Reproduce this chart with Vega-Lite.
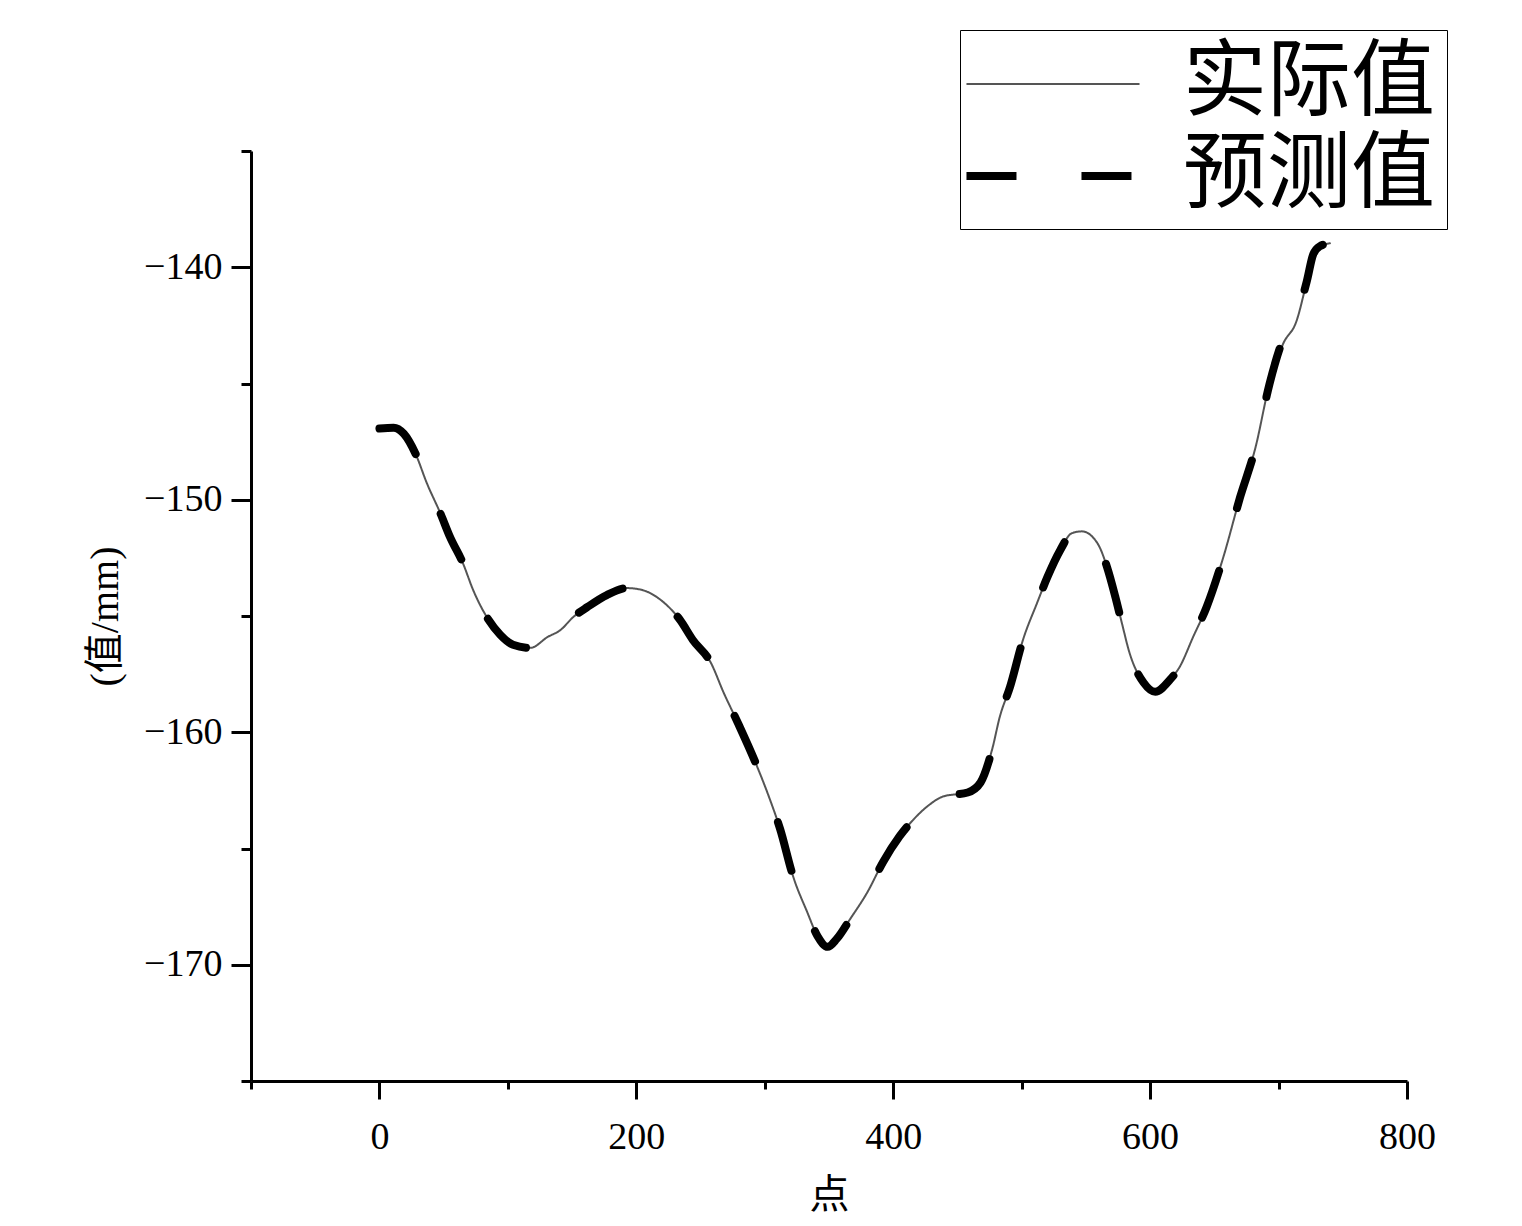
{
  "$schema": "https://vega.github.io/schema/vega-lite/v6.json",
  "width": 1156,
  "height": 930,
  "autosize": {"type": "none"},
  "padding": {"left": 251, "top": 151, "right": 115, "bottom": 145},
  "background": "white",
  "config": {"view": {"stroke": null}, "font": "Liberation Serif, Noto Sans CJK SC"},
  "data": {"values": [
    {"s": "实际值", "x": 0, "y": -146.94}, {"s": "实际值", "x": 11, "y": -146.90}, {"s": "实际值", "x": 19, "y": -147.16}, {"s": "实际值", "x": 28, "y": -148.01},
    {"s": "实际值", "x": 37, "y": -149.30}, {"s": "实际值", "x": 47.5, "y": -150.59}, {"s": "实际值", "x": 55, "y": -151.61}, {"s": "实际值", "x": 65, "y": -152.73},
    {"s": "实际值", "x": 73, "y": -153.89}, {"s": "实际值", "x": 85, "y": -155.17}, {"s": "实际值", "x": 94, "y": -155.81}, {"s": "实际值", "x": 104, "y": -156.24},
    {"s": "实际值", "x": 117.5, "y": -156.37}, {"s": "实际值", "x": 131, "y": -155.90}, {"s": "实际值", "x": 141, "y": -155.60}, {"s": "实际值", "x": 151, "y": -155.04},
    {"s": "实际值", "x": 162, "y": -154.61}, {"s": "实际值", "x": 177, "y": -154.10}, {"s": "实际值", "x": 193, "y": -153.80}, {"s": "实际值", "x": 205, "y": -153.89},
    {"s": "实际值", "x": 219, "y": -154.31}, {"s": "实际值", "x": 234, "y": -155.17}, {"s": "实际值", "x": 244, "y": -156.03}, {"s": "实际值", "x": 258, "y": -157.01},
    {"s": "实际值", "x": 268, "y": -158.30}, {"s": "实际值", "x": 279, "y": -159.59}, {"s": "实际值", "x": 294, "y": -161.47}, {"s": "实际值", "x": 304, "y": -162.89},
    {"s": "实际值", "x": 312, "y": -164.17}, {"s": "实际值", "x": 322, "y": -166.19}, {"s": "实际值", "x": 333, "y": -167.73}, {"s": "实际值", "x": 341, "y": -168.76},
    {"s": "实际值", "x": 349, "y": -169.23}, {"s": "实际值", "x": 356, "y": -168.89}, {"s": "实际值", "x": 366.5, "y": -168.03}, {"s": "实际值", "x": 380, "y": -166.87},
    {"s": "实际值", "x": 392, "y": -165.59}, {"s": "实际值", "x": 405, "y": -164.47}, {"s": "实际值", "x": 416, "y": -163.74}, {"s": "实际值", "x": 426.5, "y": -163.19},
    {"s": "实际值", "x": 439, "y": -162.76}, {"s": "实际值", "x": 458, "y": -162.59}, {"s": "实际值", "x": 468, "y": -162.16}, {"s": "实际值", "x": 477, "y": -160.74},
    {"s": "实际值", "x": 483, "y": -159.33}, {"s": "实际值", "x": 491, "y": -158.04}, {"s": "实际值", "x": 501, "y": -156.03}, {"s": "实际值", "x": 512, "y": -154.44},
    {"s": "实际值", "x": 520, "y": -153.33}, {"s": "实际值", "x": 530, "y": -152.17}, {"s": "实际值", "x": 539, "y": -151.44}, {"s": "实际值", "x": 547, "y": -151.36},
    {"s": "实际值", "x": 559, "y": -151.87}, {"s": "实际值", "x": 566.5, "y": -152.90}, {"s": "实际值", "x": 573, "y": -154.19}, {"s": "实际值", "x": 578, "y": -155.30},
    {"s": "实际值", "x": 584, "y": -156.59}, {"s": "实际值", "x": 595, "y": -157.87}, {"s": "实际值", "x": 604, "y": -158.26}, {"s": "实际值", "x": 615.5, "y": -157.74},
    {"s": "实际值", "x": 623, "y": -157.19}, {"s": "实际值", "x": 633.5, "y": -155.90}, {"s": "实际值", "x": 644, "y": -154.61}, {"s": "实际值", "x": 657, "y": -152.47},
    {"s": "实际值", "x": 670, "y": -149.90}, {"s": "实际值", "x": 682, "y": -147.76}, {"s": "实际值", "x": 693, "y": -145.01}, {"s": "实际值", "x": 703.5, "y": -143.30},
    {"s": "实际值", "x": 714, "y": -142.31}, {"s": "实际值", "x": 722, "y": -140.60}, {"s": "实际值", "x": 727, "y": -139.44}, {"s": "实际值", "x": 732, "y": -139.10},
    {"s": "实际值", "x": 740, "y": -138.97},
    {"s": "预测值", "x": 0, "y": -146.94}, {"s": "预测值", "x": 11, "y": -146.90}, {"s": "预测值", "x": 19, "y": -147.16}, {"s": "预测值", "x": 28, "y": -148.01},
    {"s": "预测值", "x": 37, "y": -149.30}, {"s": "预测值", "x": 47.5, "y": -150.59}, {"s": "预测值", "x": 55, "y": -151.61}, {"s": "预测值", "x": 65, "y": -152.73},
    {"s": "预测值", "x": 73, "y": -153.89}, {"s": "预测值", "x": 85, "y": -155.17}, {"s": "预测值", "x": 94, "y": -155.81}, {"s": "预测值", "x": 104, "y": -156.24},
    {"s": "预测值", "x": 117.5, "y": -156.37}, {"s": "预测值", "x": 131, "y": -155.90}, {"s": "预测值", "x": 141, "y": -155.60}, {"s": "预测值", "x": 151, "y": -155.04},
    {"s": "预测值", "x": 162, "y": -154.61}, {"s": "预测值", "x": 177, "y": -154.10}, {"s": "预测值", "x": 193, "y": -153.80}, {"s": "预测值", "x": 205, "y": -153.89},
    {"s": "预测值", "x": 219, "y": -154.31}, {"s": "预测值", "x": 234, "y": -155.17}, {"s": "预测值", "x": 244, "y": -156.03}, {"s": "预测值", "x": 258, "y": -157.01},
    {"s": "预测值", "x": 268, "y": -158.30}, {"s": "预测值", "x": 279, "y": -159.59}, {"s": "预测值", "x": 294, "y": -161.47}, {"s": "预测值", "x": 304, "y": -162.89},
    {"s": "预测值", "x": 312, "y": -164.17}, {"s": "预测值", "x": 322, "y": -166.19}, {"s": "预测值", "x": 333, "y": -167.73}, {"s": "预测值", "x": 341, "y": -168.76},
    {"s": "预测值", "x": 349, "y": -169.23}, {"s": "预测值", "x": 356, "y": -168.89}, {"s": "预测值", "x": 366.5, "y": -168.03}, {"s": "预测值", "x": 380, "y": -166.87},
    {"s": "预测值", "x": 392, "y": -165.59}, {"s": "预测值", "x": 405, "y": -164.47}, {"s": "预测值", "x": 416, "y": -163.74}, {"s": "预测值", "x": 426.5, "y": -163.19},
    {"s": "预测值", "x": 439, "y": -162.76}, {"s": "预测值", "x": 458, "y": -162.59}, {"s": "预测值", "x": 468, "y": -162.16}, {"s": "预测值", "x": 477, "y": -160.74},
    {"s": "预测值", "x": 483, "y": -159.33}, {"s": "预测值", "x": 491, "y": -158.04}, {"s": "预测值", "x": 501, "y": -156.03}, {"s": "预测值", "x": 512, "y": -154.44},
    {"s": "预测值", "x": 520, "y": -153.33}, {"s": "预测值", "x": 530, "y": -152.17}, {"s": "预测值", "x": 539, "y": -151.44}, {"s": "预测值", "x": 547, "y": -151.36},
    {"s": "预测值", "x": 559, "y": -151.87}, {"s": "预测值", "x": 566.5, "y": -152.90}, {"s": "预测值", "x": 573, "y": -154.19}, {"s": "预测值", "x": 578, "y": -155.30},
    {"s": "预测值", "x": 584, "y": -156.59}, {"s": "预测值", "x": 595, "y": -157.87}, {"s": "预测值", "x": 604, "y": -158.26}, {"s": "预测值", "x": 615.5, "y": -157.74},
    {"s": "预测值", "x": 623, "y": -157.19}, {"s": "预测值", "x": 633.5, "y": -155.90}, {"s": "预测值", "x": 644, "y": -154.61}, {"s": "预测值", "x": 657, "y": -152.47},
    {"s": "预测值", "x": 670, "y": -149.90}, {"s": "预测值", "x": 682, "y": -147.76}, {"s": "预测值", "x": 693, "y": -145.01}, {"s": "预测值", "x": 703.5, "y": -143.10},
    {"s": "预测值", "x": 714, "y": -142.10}, {"s": "预测值", "x": 722, "y": -140.60}, {"s": "预测值", "x": 727, "y": -139.44}, {"s": "预测值", "x": 732, "y": -139.10},
    {"s": "预测值", "x": 740, "y": -138.97}
  ]},
  "mark": {"type": "line", "interpolate": "monotone", "strokeCap": "round", "strokeJoin": "round"},
  "encoding": {
    "x": {
      "field": "x", "type": "quantitative",
      "scale": {"domain": [-100, 800], "nice": false, "zero": false},
      "axis": {
        "values": [-100, 0, 100, 200, 300, 400, 500, 600, 700, 800],
        "labelExpr": "datum.value % 200 === 0 ? datum.label : ''",
        "grid": false, "labelFlush": false, "labelOverlap": false,
        "labelFont": "Liberation Serif", "labelFontSize": 38, "labelColor": "black", "labelPadding": 19,
        "domainColor": "black", "domainWidth": 3, "tickColor": "black", "tickWidth": 3,
        "tickSize": {"condition": {"test": "datum.value % 200 === 0", "value": 18}, "value": 8},
        "title": "点", "titleFont": "Noto Sans CJK SC", "titleFontSize": 40, "titleFontWeight": "normal", "titleColor": "black",
        "titleX": 578, "titleY": 114, "titleBaseline": "middle", "titleAlign": "center"
      }
    },
    "y": {
      "field": "y", "type": "quantitative",
      "scale": {"domain": [-175, -135], "nice": false, "zero": false},
      "axis": {
        "values": [-175, -170, -165, -160, -155, -150, -145, -140, -135],
        "labelExpr": "datum.value % 10 === 0 ? datum.label : ''",
        "grid": false, "labelFlush": false, "labelOverlap": false,
        "labelFont": "Liberation Serif", "labelFontSize": 38, "labelColor": "black", "labelPadding": 9,
        "domainColor": "black", "domainWidth": 3, "tickColor": "black", "tickWidth": 3,
        "tickSize": {"condition": {"test": "datum.value % 10 === 0", "value": 20}, "value": 10},
        "title": "(值/mm)", "titleFont": "Liberation Serif, Noto Sans CJK SC", "titleFontSize": 40, "titleFontWeight": "normal", "titleColor": "black",
        "titleX": -146, "titleY": 465, "titleAngle": 270, "titleBaseline": "middle", "titleAlign": "center"
      }
    },
    "color": {
      "field": "s", "type": "nominal",
      "scale": {"domain": ["实际值", "预测值"], "range": ["#555555", "#000000"]},
      "legend": {"title": null, "orient": "none", "legendX": 709, "legendY": -121, "symbolType": "M-2.06,0H2.06", "symbolSize": 7056, "symbolOffset": 36,
        "labelFont": "Noto Sans CJK SC", "labelFontSize": 84, "labelColor": "black", "labelOffset": 84, "labelLimit": 0,
        "rowPadding": 4, "padding": 11, "strokeColor": "black", "fillColor": "white"}
    },
    "strokeDash": {
      "field": "s", "type": "nominal",
      "scale": {"domain": ["实际值", "预测值"], "range": [[1, 0], [50, 65]]},
      "legend": {"title": null, "orient": "none", "legendX": 709, "legendY": -121, "symbolType": "M-2.06,0H2.06", "symbolSize": 7056, "symbolOffset": 36,
        "labelFont": "Noto Sans CJK SC", "labelFontSize": 84, "labelColor": "black", "labelOffset": 84, "labelLimit": 0,
        "rowPadding": 4, "padding": 11, "strokeColor": "black", "fillColor": "white"}
    },
    "strokeWidth": {
      "field": "s", "type": "nominal",
      "scale": {"domain": ["实际值", "预测值"], "range": [2, 8]},
      "legend": {"title": null, "orient": "none", "legendX": 709, "legendY": -121, "symbolType": "M-2.06,0H2.06", "symbolSize": 7056, "symbolOffset": 36,
        "labelFont": "Noto Sans CJK SC", "labelFontSize": 84, "labelColor": "black", "labelOffset": 84, "labelLimit": 0,
        "rowPadding": 4, "padding": 11, "strokeColor": "black", "fillColor": "white"}
    }
  }
}
